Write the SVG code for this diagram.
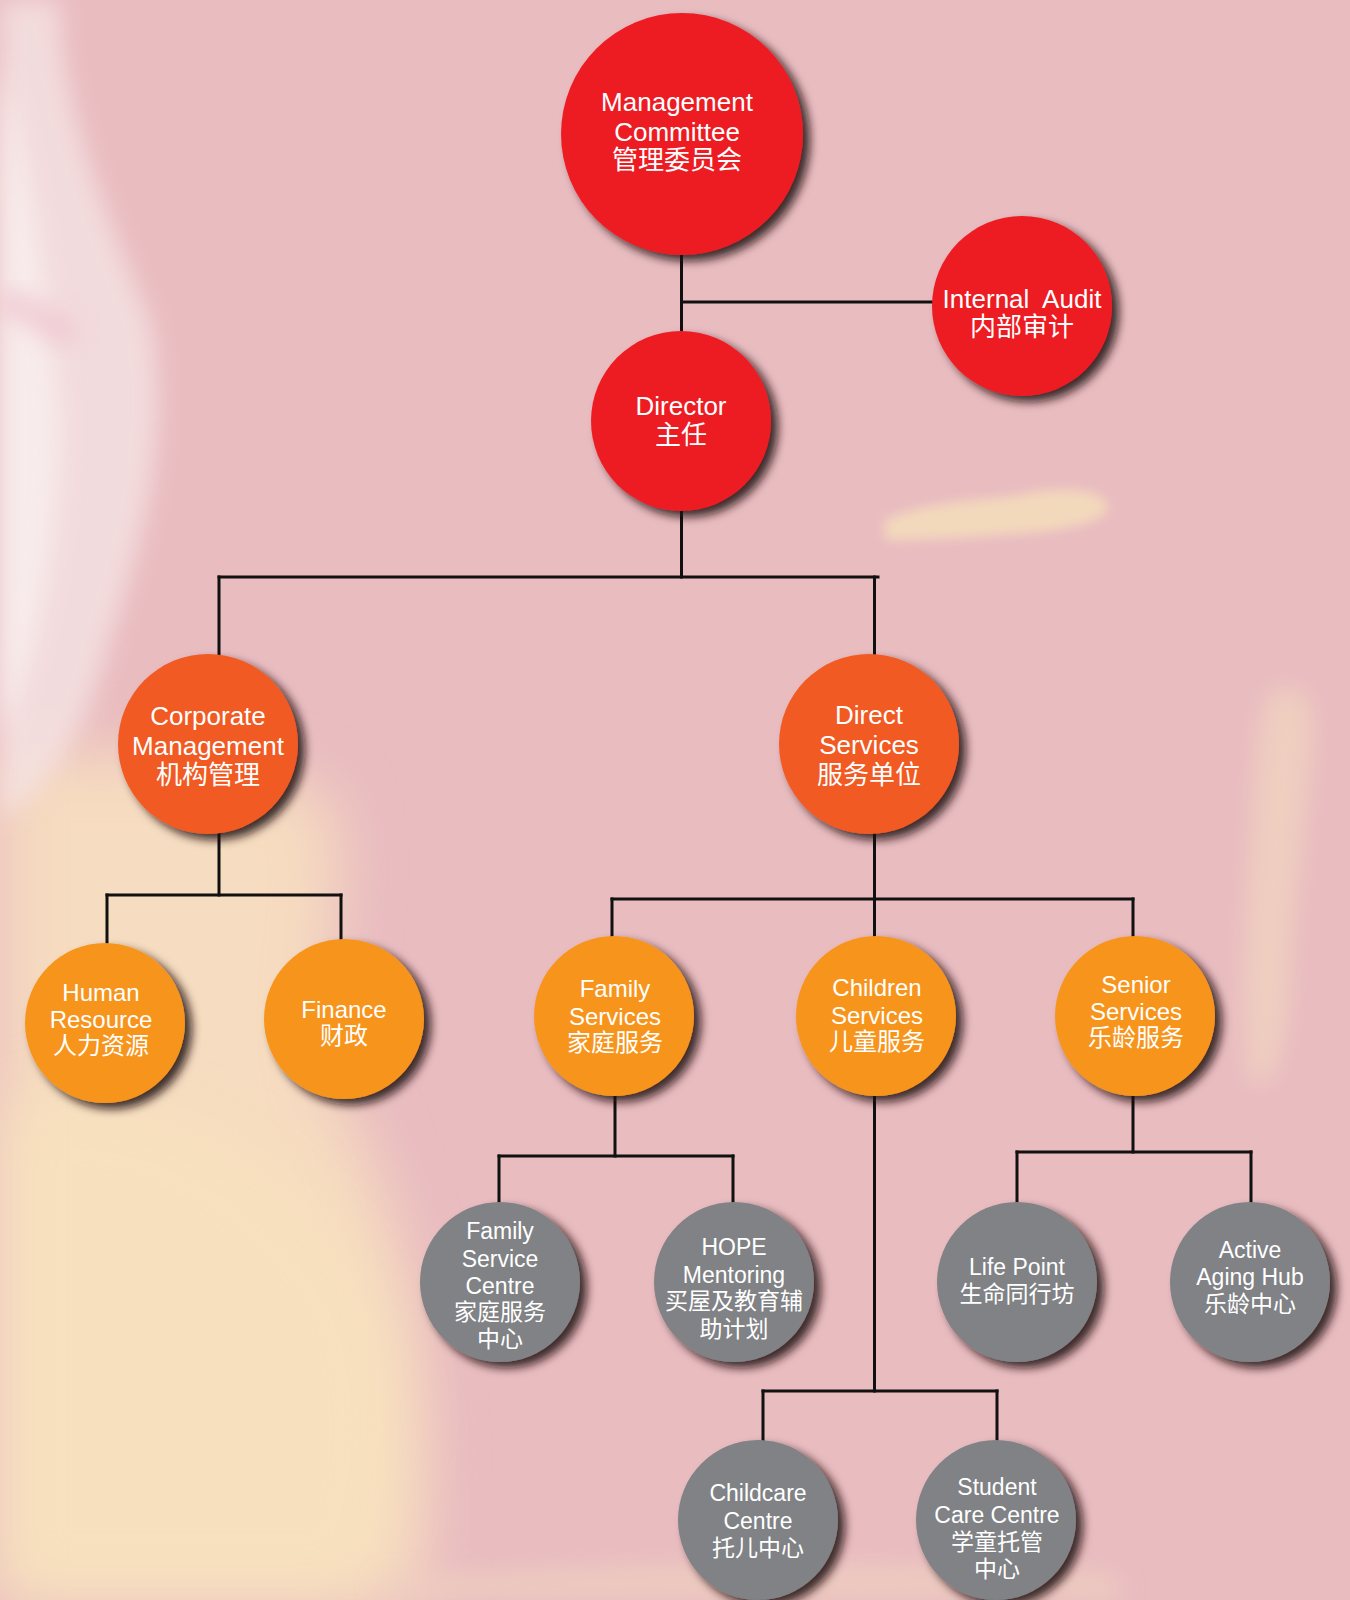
<svg xmlns="http://www.w3.org/2000/svg" width="1350" height="1600" viewBox="0 0 1350 1600">
<defs>
  <filter id="blur30" x="-50%" y="-50%" width="200%" height="200%"><feGaussianBlur stdDeviation="30"/></filter>
  <filter id="blur12" x="-50%" y="-50%" width="200%" height="200%"><feGaussianBlur stdDeviation="12"/></filter>
  <filter id="blur6" x="-50%" y="-50%" width="200%" height="200%"><feGaussianBlur stdDeviation="6"/></filter>
  <filter id="shadow" x="-30%" y="-30%" width="170%" height="170%">
    <feDropShadow dx="7" dy="6" stdDeviation="5" flood-color="#1e1010" flood-opacity="0.85"/>
  </filter>
  <style>
    .red { fill: #ED1C24; }
    .ored { fill: #F15A24; }
    .orange { fill: #F7941D; }
    .gray { fill: #808285; }
    .node circle { filter: url(#shadow); }
    .conn { fill: none; stroke: #111111; stroke-width: 3; stroke-linecap: square; }
    text { fill: #ffffff; text-anchor: middle; font-family: "Liberation Sans", Arial, "Noto Sans CJK SC", sans-serif; }
    .t26 { font-size: 26px; }
    .t24 { font-size: 24px; }
    .t23 { font-size: 23px; }
  </style>
</defs>

<g id="background">
  <rect x="0" y="0" width="1350" height="1600" fill="#E9BCC0"/>
  <path d="M0,760 C120,740 260,760 330,800 C360,900 300,1000 340,1100 C400,1200 430,1350 420,1600 L0,1600 Z" fill="#F6DCC0" filter="url(#blur30)"/>
  <path d="M0,1100 C150,1080 300,1150 380,1300 C420,1420 400,1520 360,1600 L0,1600 Z" fill="#F8E2BE" filter="url(#blur30)" opacity="0.8"/>
  <path d="M0,0 L60,0 C60,100 100,200 150,320 C170,420 150,520 110,640 C90,720 60,780 0,820 Z" fill="#F6E6E6" filter="url(#blur12)" opacity="0.75"/>
  <path d="M0,60 C30,160 50,300 60,420 C60,560 30,680 0,740 Z" fill="#FBF3F2" filter="url(#blur12)" opacity="0.7"/>
  <path d="M0,300 C30,310 50,320 70,340" stroke="#EEC3CE" stroke-width="26" fill="none" filter="url(#blur12)" opacity="0.8"/>
  <path d="M885,520 C930,500 990,500 1020,495 C1060,486 1100,488 1108,505 C1110,522 1060,532 1010,534 C960,538 920,540 885,540 Z" fill="#F3D9BC" filter="url(#blur6)"/>
  <path d="M1275,690 C1300,680 1315,700 1312,740 C1305,820 1292,900 1288,1000 C1284,1060 1265,1100 1250,1080 C1240,1000 1248,900 1253,820 C1257,750 1260,700 1275,690 Z" fill="#EFCFC0" filter="url(#blur12)"/>
  <path d="M380,1580 C600,1560 900,1560 1120,1575 L1120,1600 L380,1600 Z" fill="#EFD0C0" filter="url(#blur12)" opacity="0.7"/>
</g>

<g id="connectors" class="conn">
  <path d="M681.5,255 V331"/>
  <path d="M681.5,302 H932"/>
  <path d="M681.5,511 V577"/>
  <path d="M219,577 H878"/>
  <path d="M219,577 V654"/>
  <path d="M874.5,577 V654"/>
  <path d="M219,834 V895"/>
  <path d="M107,895 H341"/>
  <path d="M107,895 V943"/>
  <path d="M341,895 V939"/>
  <path d="M874.5,834 V936"/>
  <path d="M612,899 H1133"/>
  <path d="M612,899 V936"/>
  <path d="M1133,899 V936"/>
  <path d="M615,1096 V1156"/>
  <path d="M499,1156 H733"/>
  <path d="M499,1156 V1202"/>
  <path d="M733,1156 V1202"/>
  <path d="M874.5,1096 V1391"/>
  <path d="M763,1391 H997"/>
  <path d="M763,1391 V1440"/>
  <path d="M997,1391 V1440"/>
  <path d="M1133,1096 V1152"/>
  <path d="M1017,1152 H1251"/>
  <path d="M1017,1152 V1202"/>
  <path d="M1251,1152 V1202"/>
</g>

<g id="management-committee" class="node">
  <circle class="red" cx="682" cy="134" r="121"/>
  <text class="t26" x="677" y="111">Management</text>
  <text class="t26" x="677" y="141">Committee</text>
  <text class="t26" x="677" y="169">管理委员会</text>
</g>

<g id="internal-audit" class="node">
  <circle class="red" cx="1022" cy="306" r="90"/>
  <text class="t26" x="1022" y="308" word-spacing="7">Internal Audit</text>
  <text class="t26" x="1022" y="336">内部审计</text>
</g>

<g id="director" class="node">
  <circle class="red" cx="681" cy="421" r="90"/>
  <text class="t26" x="681" y="415">Director</text>
  <text class="t26" x="681" y="444">主任</text>
</g>

<g id="corporate-management" class="node">
  <circle class="ored" cx="208" cy="744" r="90"/>
  <text class="t26" x="208" y="725">Corporate</text>
  <text class="t26" x="208" y="755">Management</text>
  <text class="t26" x="208" y="784">机构管理</text>
</g>

<g id="direct-services" class="node">
  <circle class="ored" cx="869" cy="744" r="90"/>
  <text class="t26" x="869" y="724">Direct</text>
  <text class="t26" x="869" y="754">Services</text>
  <text class="t26" x="869" y="784">服务单位</text>
</g>

<g id="human-resource" class="node">
  <circle class="orange" cx="105" cy="1023" r="80"/>
  <text class="t24" x="101" y="1001">Human</text>
  <text class="t24" x="101" y="1028">Resource</text>
  <text class="t24" x="101" y="1054">人力资源</text>
</g>

<g id="finance" class="node">
  <circle class="orange" cx="344" cy="1019" r="80"/>
  <text class="t24" x="344" y="1018">Finance</text>
  <text class="t24" x="344" y="1044">财政</text>
</g>

<g id="family-services" class="node">
  <circle class="orange" cx="614" cy="1016" r="80"/>
  <text class="t24" x="615" y="997">Family</text>
  <text class="t24" x="615" y="1025">Services</text>
  <text class="t24" x="615" y="1051">家庭服务</text>
</g>

<g id="children-services" class="node">
  <circle class="orange" cx="876" cy="1016" r="80"/>
  <text class="t24" x="877" y="996">Children</text>
  <text class="t24" x="877" y="1024">Services</text>
  <text class="t24" x="877" y="1050">儿童服务</text>
</g>

<g id="senior-services" class="node">
  <circle class="orange" cx="1135" cy="1016" r="80"/>
  <text class="t24" x="1136" y="993">Senior</text>
  <text class="t24" x="1136" y="1020">Services</text>
  <text class="t24" x="1136" y="1046">乐龄服务</text>
</g>

<g id="family-service-centre" class="node">
  <circle class="gray" cx="500" cy="1282" r="80"/>
  <text class="t23" x="500" y="1239">Family</text>
  <text class="t23" x="500" y="1267">Service</text>
  <text class="t23" x="500" y="1294">Centre</text>
  <text class="t23" x="500" y="1320">家庭服务</text>
  <text class="t23" x="500" y="1347">中心</text>
</g>

<g id="hope-mentoring" class="node">
  <circle class="gray" cx="734" cy="1282" r="80"/>
  <text class="t23" x="734" y="1255">HOPE</text>
  <text class="t23" x="734" y="1283">Mentoring</text>
  <text class="t23" x="734" y="1309">买屋及教育辅</text>
  <text class="t23" x="734" y="1337">助计划</text>
</g>

<g id="life-point" class="node">
  <circle class="gray" cx="1017" cy="1282" r="80"/>
  <text class="t23" x="1017" y="1275">Life Point</text>
  <text class="t23" x="1017" y="1302">生命同行坊</text>
</g>

<g id="active-aging-hub" class="node">
  <circle class="gray" cx="1250" cy="1282" r="80"/>
  <text class="t23" x="1250" y="1258">Active</text>
  <text class="t23" x="1250" y="1285">Aging Hub</text>
  <text class="t23" x="1250" y="1312">乐龄中心</text>
</g>

<g id="childcare-centre" class="node">
  <circle class="gray" cx="758" cy="1520" r="80"/>
  <text class="t23" x="758" y="1501">Childcare</text>
  <text class="t23" x="758" y="1529">Centre</text>
  <text class="t23" x="758" y="1556">托儿中心</text>
</g>

<g id="student-care-centre" class="node">
  <circle class="gray" cx="996" cy="1520" r="80"/>
  <text class="t23" x="997" y="1495">Student</text>
  <text class="t23" x="997" y="1523">Care Centre</text>
  <text class="t23" x="997" y="1550">学童托管</text>
  <text class="t23" x="997" y="1577">中心</text>
</g>
</svg>
